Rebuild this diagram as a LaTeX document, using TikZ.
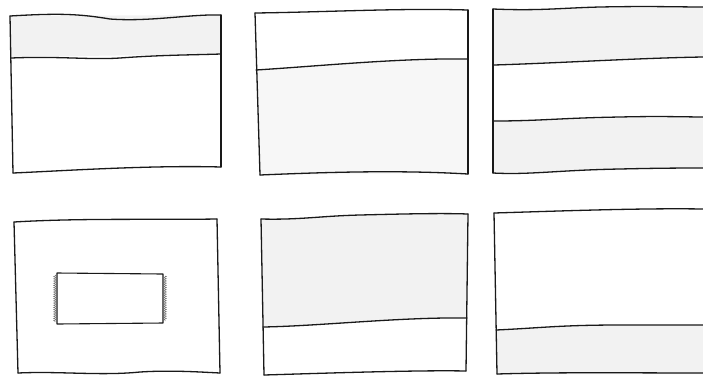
\documentclass[tikz,border=0pt]{standalone}
\usetikzlibrary{decorations.pathmorphing}
\begin{document}
\begin{tikzpicture}[x=1pt,y=-1pt,
  sk/.style={draw=black!90,line width=1.3pt,line join=round,line cap=round},
  shade/.style={fill=black!5,draw=none},
  zz/.style={draw=black!55,line width=0.5pt,decorate,decoration={zigzag,amplitude=1.4pt,segment length=2.2pt}}]
\useasboundingbox (0,0) rectangle (703,376);
% ---------- panel 1 ----------
\fill[shade] (11,16) -- (220,15) -- (220,54) -- (11,57) -- cycle;
\draw[sk] (10,16) .. controls (60,13) and (80,14) .. (110,19) .. controls (150,22) and (190,14) .. (221,15);
\draw[sk] (10,16) -- (13,173);
\draw[sk] (221,15) -- (221,167);
\draw[sk] (11,58) .. controls (60,56) and (90,60) .. (120,58) .. controls (160,55) and (190,55) .. (221,54);
\draw[sk] (13,173) .. controls (60,171) and (150,165) .. (221,167);
% ---------- panel 2 ----------
\fill[shade,fill=black!3] (256,70) .. controls (320,66) and (400,58) .. (467,59) -- (467,173) -- (260,175) -- cycle;
\draw[sk] (255,13) .. controls (330,12) and (400,8) .. (468,10);
\draw[sk] (255,13) -- (260,175);
\draw[sk] (468,10) -- (468,174);
\draw[sk] (256,70) .. controls (320,66) and (400,58) .. (467,59);
\draw[sk] (260,175) .. controls (330,172) and (400,170) .. (468,174);
% ---------- panel 3 ----------
\fill[shade] (494,9) -- (703,7) -- (703,57) -- (494,65) -- cycle;
\fill[shade] (494,120) -- (703,117) -- (703,168) -- (493,173) -- cycle;
\draw[sk] (493,9) .. controls (540,11) and (560,8) .. (600,7) .. controls (650,6) and (680,7) .. (703,7);
\draw[sk] (493,9) -- (493,173);
\draw[sk] (494,65) .. controls (560,63) and (640,58) .. (703,57);
\draw[sk] (494,121) .. controls (540,121) and (560,118) .. (620,117) .. controls (660,116) and (690,117) .. (703,117);
\draw[sk] (493,173) .. controls (530,175) and (560,170) .. (620,169) .. controls (660,168) and (690,168) .. (703,168);
% ---------- panel 4 ----------
\draw[sk] (14,222) .. controls (80,218) and (150,220) .. (217,219);
\draw[sk] (14,222) -- (18,373);
\draw[sk] (217,219) -- (220,373);
\draw[sk] (18,373) .. controls (60,371) and (100,376) .. (140,372) .. controls (170,370) and (200,372) .. (220,373);
\coordinate (ia) at (57,273);
\coordinate (ib) at (163,274);
\coordinate (ic) at (163,323);
\coordinate (id) at (57,324);
\draw[sk,line width=1.1pt] (ia) -- (ib) -- (ic) -- (id) -- cycle;
\draw[zz] (55,275) -- (55,322);
\draw[zz] (165,276) -- (165,321);
% ---------- panel 5 ----------
\fill[shade] (262,219) .. controls (330,217) and (400,213) .. (467,214) -- (467,318) .. controls (400,317) and (320,326) .. (263,327) -- cycle;
\draw[sk] (261,219) .. controls (300,220) and (320,216) .. (360,215) .. controls (400,214) and (440,213) .. (468,214);
\draw[sk] (261,219) -- (264,375);
\draw[sk] (468,214) -- (466,371);
\draw[sk] (263,327) .. controls (320,326) and (400,317) .. (467,318);
\draw[sk] (264,375) .. controls (330,373) and (420,370) .. (466,371);
% ---------- panel 6 ----------
\fill[shade] (496,330) .. controls (540,328) and (560,325) .. (620,325) .. controls (660,325) and (690,325) .. (703,325) -- (703,374) -- (497,374) -- cycle;
\draw[sk] (494,213) .. controls (560,211) and (640,208) .. (703,209);
\draw[sk] (494,213) -- (497,374);
\draw[sk] (496,330) .. controls (540,328) and (560,325) .. (620,325) .. controls (660,325) and (690,325) .. (703,325);
\draw[sk] (497,374) .. controls (560,372) and (640,373) .. (703,373);
\end{tikzpicture}
\end{document}
